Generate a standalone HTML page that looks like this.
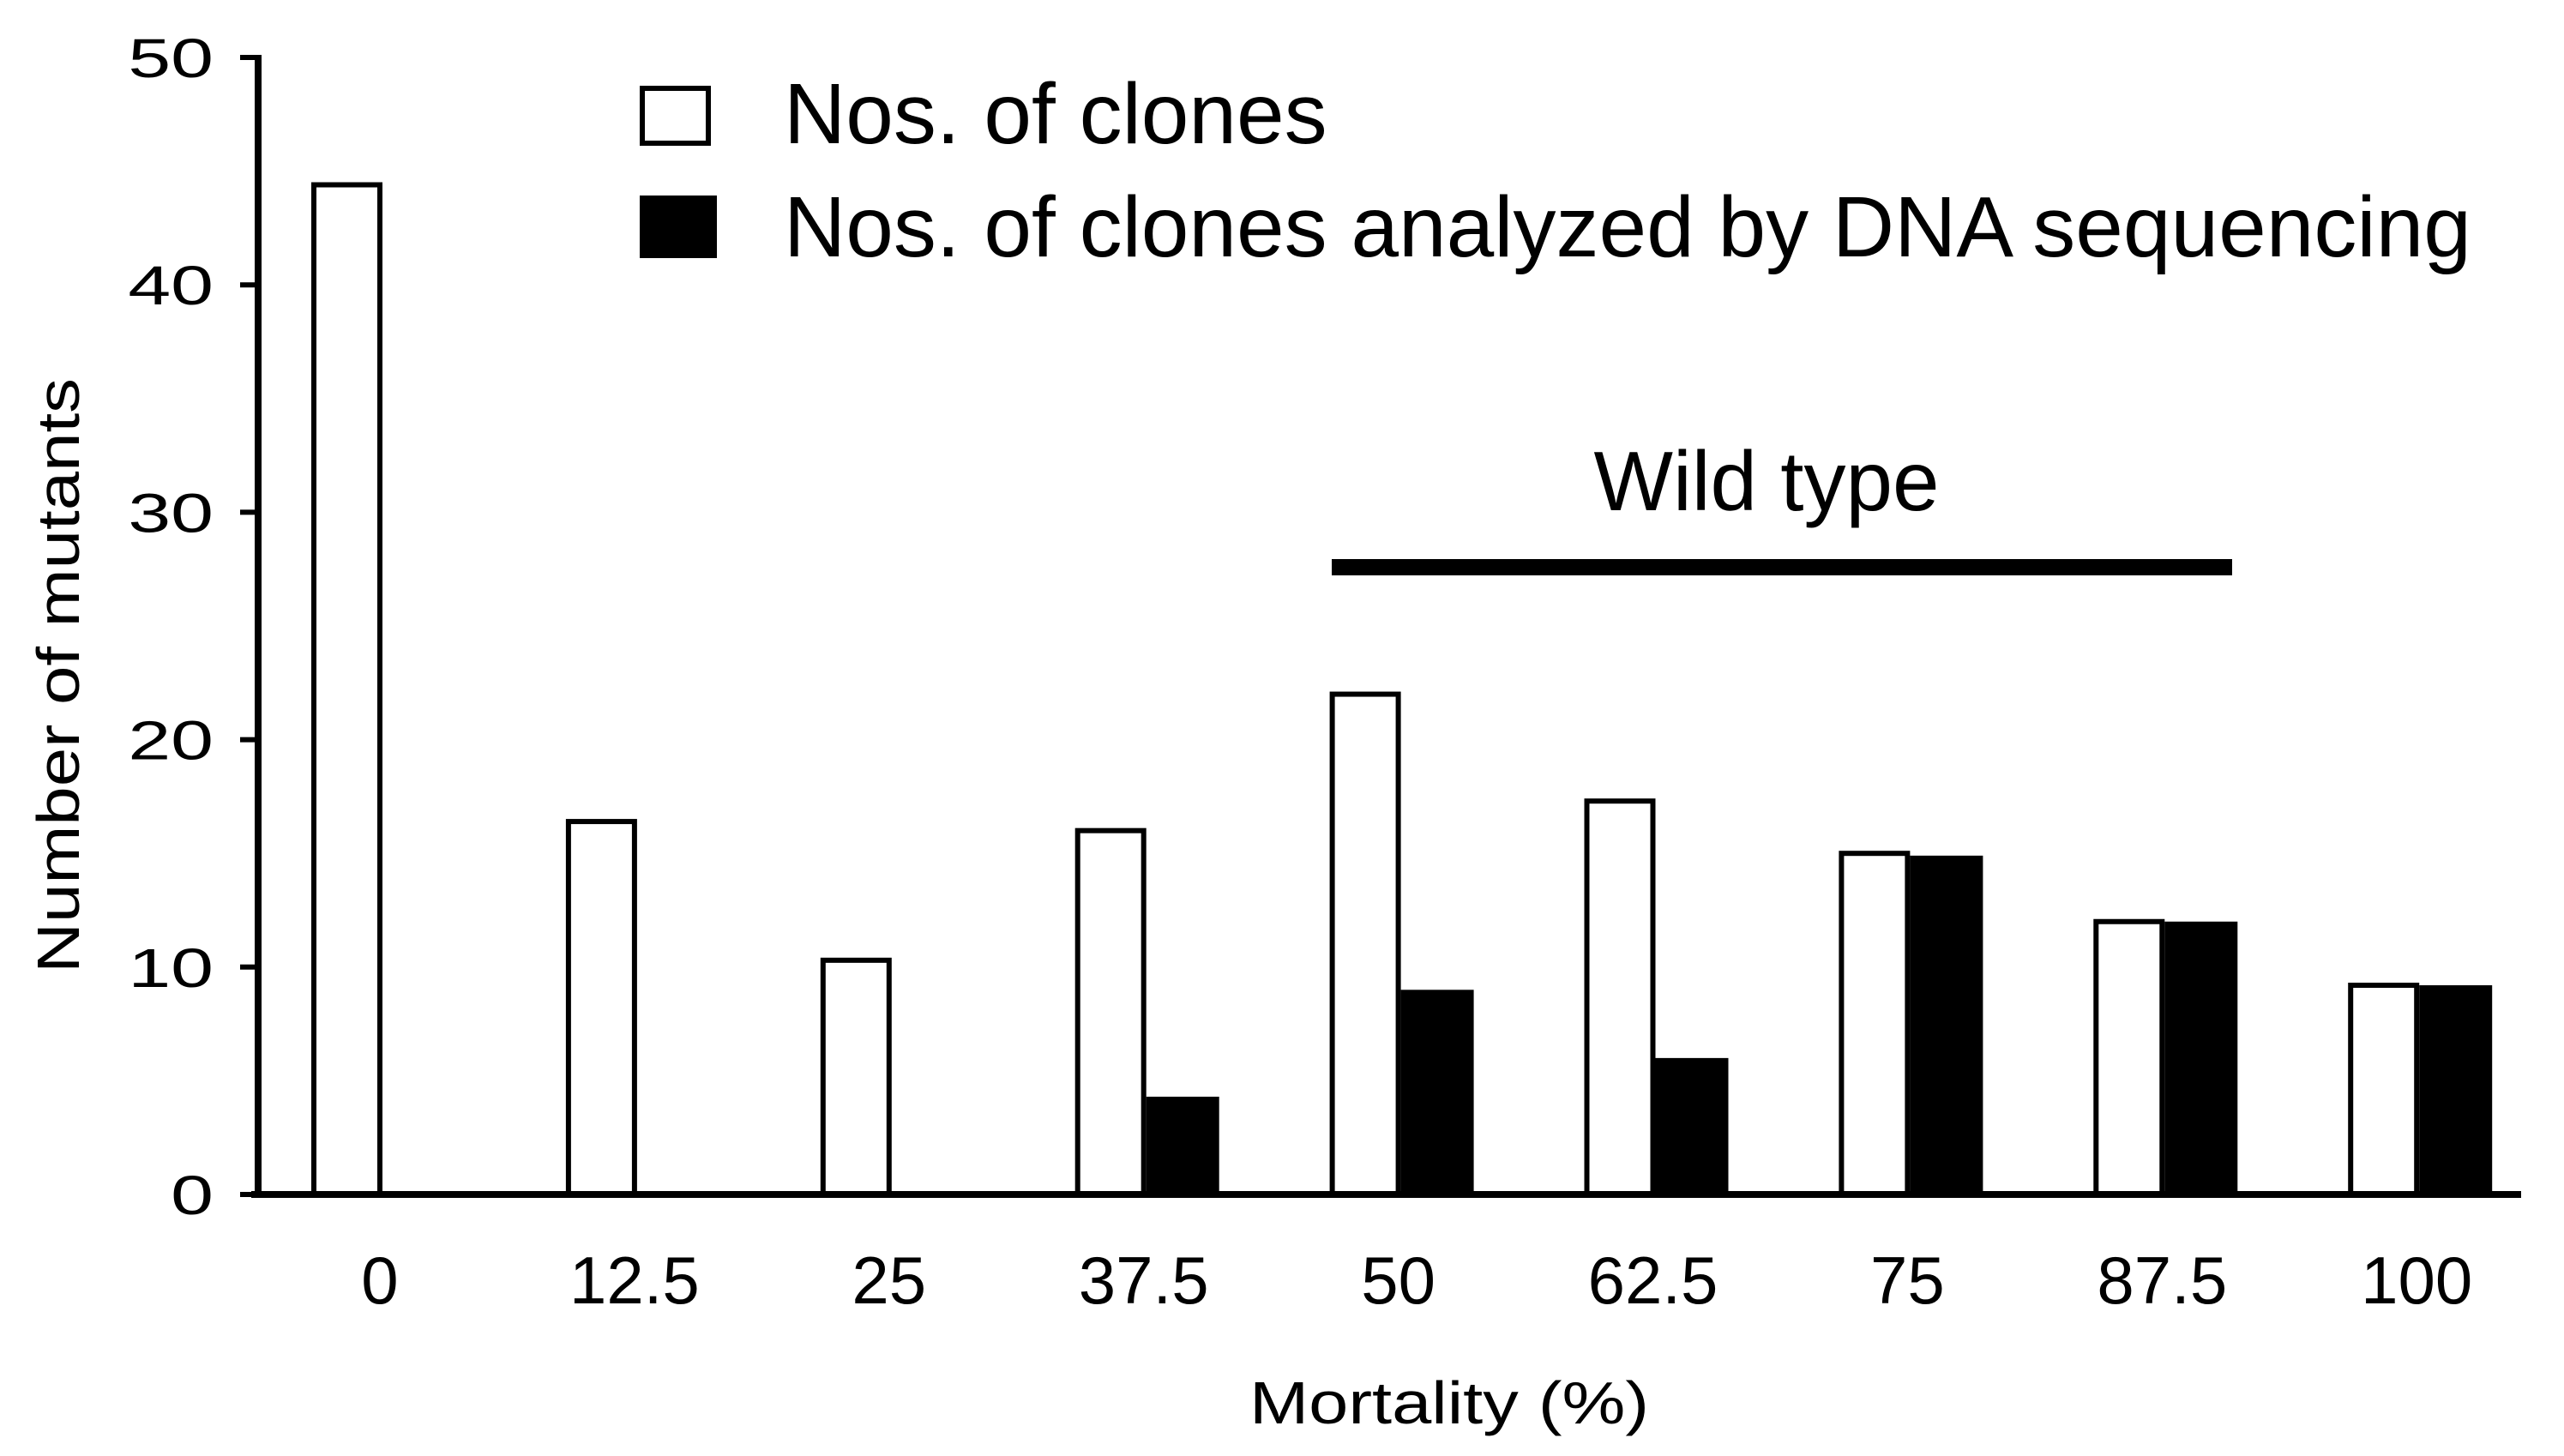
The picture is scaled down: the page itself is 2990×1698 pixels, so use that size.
<!DOCTYPE html>
<html><head><meta charset="utf-8"><style>html,body{margin:0;padding:0;background:#fff;}svg{display:block;font-family:"Liberation Sans",Arial,sans-serif;}</style></head>
<body>
<svg id="chart" width="2990" height="1698" viewBox="0 0 2990 1698" xmlns="http://www.w3.org/2000/svg">
<g id="bars"></g>
<g id="axes"></g>
<g>
  <rect x="749" y="103" width="77" height="64" fill="#fff" stroke="#000" stroke-width="6"/>
  <text x="914" y="167" font-size="100">Nos. of clones</text>
  <rect x="746" y="228" width="90" height="73" fill="#000"/>
  <text x="914" y="299" font-size="100">Nos. of clones analyzed by DNA sequencing</text>
</g>
<g>
  <text x="2060" y="595" font-size="98" text-anchor="middle">Wild type</text>
  <rect x="1553" y="652" width="1050" height="19" fill="#000"/>
</g>
<text transform="translate(92,788) rotate(-90)" font-size="70" text-anchor="middle" textLength="694" lengthAdjust="spacingAndGlyphs">Number of mutants</text>
<text x="1690" y="1660" font-size="70" text-anchor="middle" textLength="466" lengthAdjust="spacingAndGlyphs">Mortality (%)</text>
</svg>
<script>
const categories = ["0","12.5","25","37.5","50","62.5","75","87.5","100"];
const clones = [44.4,16.4,10.3,16,22,17.3,15,12,9.2];
const sequenced = [0,0,0,4.3,9,6,14.9,12,9.2];
const yTicks = [0,10,20,30,40,50];

const NS="http://www.w3.org/2000/svg";
const y0=1393, yPer=26.52, x0=446, step=296.9, bw=83;
const yS=v=>y0-v*yPer;
const xC=i=>x0+i*step;
function mk(tag,attrs,parent){const e=document.createElementNS(NS,tag);for(const k in attrs)e.setAttribute(k,attrs[k]);parent.appendChild(e);return e;}
const bars=document.getElementById('bars'), axes=document.getElementById('axes');
categories.forEach((c,i)=>{
  const cx=xC(i);
  const w=mk('rect',{x:cx-bw+3,y:yS(clones[i]),width:bw-6,height:y0-yS(clones[i]),fill:'#fff',stroke:'#000','stroke-width':6},bars);
  
  
  if(sequenced[i]>0){
    const b=mk('rect',{x:cx,y:yS(sequenced[i]),width:bw+2,height:y0-yS(sequenced[i]),fill:'#000'},bars);
    
    
  }
  const t=mk('text',{x:cx-3,y:1520,'font-size':78,'text-anchor':'middle'},axes);
  t.textContent=c;
  
  
});
const xl=mk('line',{x1:293,y1:y0,x2:2940,y2:y0,stroke:'#000','stroke-width':8},axes);


const yl=mk('line',{x1:301,y1:y0+4,x2:301,y2:yS(50)-3,stroke:'#000','stroke-width':8},axes);


yTicks.forEach(v=>{
  const tk=mk('line',{x1:280,y1:yS(v),x2:301,y2:yS(v),stroke:'#000','stroke-width':6},axes);
  
  
  const t=mk('text',{x:0,y:0,'font-size':64,'text-anchor':'end',transform:`translate(249,${yS(v)+23}) scale(1.4,1)`},axes);
  t.textContent=v;
  
  
});
</script>
</body></html>
